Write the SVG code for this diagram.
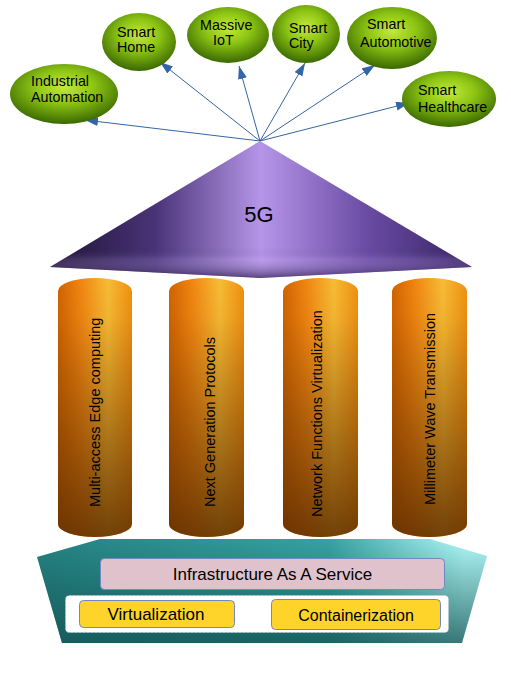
<svg xmlns="http://www.w3.org/2000/svg" width="511" height="693" viewBox="0 0 511 693">
<defs>
<radialGradient id="gGreen" cx="50%" cy="38%" r="62%">
<stop offset="0" stop-color="#c4ea3a"/>
<stop offset="0.45" stop-color="#8cc414"/>
<stop offset="1" stop-color="#3a6800"/>
</radialGradient>
<linearGradient id="gPyr" x1="0" y1="0" x2="1" y2="0">
<stop offset="0" stop-color="#1e1234"/>
<stop offset="0.25" stop-color="#4a3478"/>
<stop offset="0.5" stop-color="#b595e8"/>
<stop offset="0.75" stop-color="#6a4ca4"/>
<stop offset="1" stop-color="#362262"/>
</linearGradient>
<linearGradient id="gPyrV" x1="0" y1="0" x2="0" y2="1">
<stop offset="0" stop-color="#1a0c30" stop-opacity="0"/>
<stop offset="0.78" stop-color="#1a0c30" stop-opacity="0"/>
<stop offset="0.86" stop-color="#d0b8ff" stop-opacity="0.15"/>
<stop offset="1" stop-color="#1a0c30" stop-opacity="0.6"/>
</linearGradient>
<linearGradient id="gCyl" x1="0" y1="0" x2="1" y2="0">
<stop offset="0" stop-color="#d06400"/>
<stop offset="0.3" stop-color="#f08410"/>
<stop offset="0.68" stop-color="#f8bc34"/>
<stop offset="1" stop-color="#f09010"/>
</linearGradient>
<linearGradient id="gCylV" x1="0" y1="0" x2="0" y2="1">
<stop offset="0" stop-color="#5a2c00" stop-opacity="0"/>
<stop offset="0.15" stop-color="#5a2c00" stop-opacity="0.05"/>
<stop offset="1" stop-color="#5a2c00" stop-opacity="0.85"/>
</linearGradient>
<linearGradient id="gBase" x1="0" y1="0" x2="1" y2="0">
<stop offset="0" stop-color="#258282"/>
<stop offset="0.65" stop-color="#36a2a2"/>
<stop offset="0.95" stop-color="#b0f8f8"/>
</linearGradient>
<linearGradient id="gBaseV" x1="0" y1="0" x2="0" y2="1">
<stop offset="0" stop-color="#124e4e" stop-opacity="0"/>
<stop offset="1" stop-color="#124e4e" stop-opacity="0.75"/>
</linearGradient>
<marker id="arr" markerUnits="userSpaceOnUse" markerWidth="14" markerHeight="10" refX="13" refY="4.5" orient="auto">
<path d="M0,0 L13,4.5 L0,9 Z" fill="#3465a4"/>
</marker>
</defs>
<style>
.ell{fill:url(#gGreen);}
.t{font-family:"Liberation Sans",Arial,sans-serif;fill:#000;}
.e{font-size:14.3px;}
.c{font-size:14.5px;}
.cyl{fill:url(#gCyl);}
.cylv{fill:url(#gCylV);}
.conn{stroke:#3465a4;stroke-width:1;fill:none;marker-end:url(#arr);}
.box{stroke:#7289c0;stroke-width:1;}
</style>

<g id="connectors">
<line class="conn" x1="260" y1="141" x2="85" y2="120"/>
<line class="conn" x1="260" y1="141" x2="160" y2="62"/>
<line class="conn" x1="260" y1="141" x2="239" y2="66"/>
<line class="conn" x1="260" y1="141" x2="305" y2="63"/>
<line class="conn" x1="260" y1="141" x2="375" y2="65"/>
<line class="conn" x1="260" y1="141" x2="409" y2="103"/>
</g>

<g id="industrial">
<ellipse class="ell" cx="64" cy="94" rx="54" ry="30"/>
<text class="t e" x="31" y="86">Industrial</text>
<text class="t e" x="31" y="102">Automation</text>
</g>
<g id="smarthome">
<ellipse class="ell" cx="139" cy="42" rx="37" ry="29"/>
<text class="t e" x="117" y="37">Smart</text>
<text class="t e" x="117" y="52">Home</text>
</g>
<g id="massiveiot">
<ellipse class="ell" cx="228" cy="35" rx="41" ry="28"/>
<text class="t e" x="200" y="30">Massive</text>
<text class="t e" x="213" y="45">IoT</text>
</g>
<g id="smartcity">
<ellipse class="ell" cx="306" cy="34" rx="34" ry="29"/>
<text class="t e" x="289" y="33">Smart</text>
<text class="t e" x="289" y="48">City</text>
</g>
<g id="smartautomotive">
<ellipse class="ell" cx="392" cy="38" rx="45" ry="31"/>
<text class="t e" x="367" y="29">Smart</text>
<text class="t e" x="360" y="47">Automotive</text>
</g>
<g id="smarthealthcare">
<ellipse class="ell" cx="449" cy="99" rx="47" ry="28"/>
<text class="t e" x="418" y="95">Smart</text>
<text class="t e" x="418" y="112">Healthcare</text>
</g>

<g id="fiveg">
<path d="M260,141 L472,267 L260,278 L50,267 Z" fill="url(#gPyr)"/>
<path d="M260,141 L472,267 L260,278 L50,267 Z" fill="url(#gPyrV)"/>
<text class="t" x="259" y="222" font-size="22" text-anchor="middle">5G</text>
</g>

<g id="base">
<path d="M37,557 L100,539 L430,539 L487,556 L462,643 L62,643 Z" fill="url(#gBase)"/>
<path d="M37,557 L100,539 L430,539 L487,556 L462,643 L62,643 Z" fill="url(#gBaseV)"/>
</g>

<g id="cyl-mec">
<path class="cyl" d="M58,291 A37,13 0 0 1 132,291 L132,524 A37,13 0 0 1 58,524 Z"/>
<path class="cylv" d="M58,291 A37,13 0 0 1 132,291 L132,524 A37,13 0 0 1 58,524 Z"/>
<text class="t c" transform="translate(100,507) rotate(-90)">Multi-access Edge computing</text>
</g>
<g id="cyl-ngp">
<path class="cyl" d="M169,291 A37.5,13 0 0 1 244,291 L244,524 A37.5,13 0 0 1 169,524 Z"/>
<path class="cylv" d="M169,291 A37.5,13 0 0 1 244,291 L244,524 A37.5,13 0 0 1 169,524 Z"/>
<text class="t c" transform="translate(215,507) rotate(-90)">Next Generation Protocols</text>
</g>
<g id="cyl-nfv">
<path class="cyl" d="M283,291 A37.5,13 0 0 1 358,291 L358,524 A37.5,13 0 0 1 283,524 Z"/>
<path class="cylv" d="M283,291 A37.5,13 0 0 1 358,291 L358,524 A37.5,13 0 0 1 283,524 Z"/>
<text class="t c" transform="translate(322,517) rotate(-90)">Network Functions Virtualization</text>
</g>
<g id="cyl-mwt">
<path class="cyl" d="M392,291 A37.5,13 0 0 1 467,291 L467,524 A37.5,13 0 0 1 392,524 Z"/>
<path class="cylv" d="M392,291 A37.5,13 0 0 1 467,291 L467,524 A37.5,13 0 0 1 392,524 Z"/>
<text class="t c" transform="translate(435,505) rotate(-90)">Millimeter Wave Transmission</text>
</g>

<g id="iaas">
<rect class="box" x="100.5" y="558.5" width="344" height="31" rx="4" fill="#e0c2cc"/>
<text class="t" x="272.5" y="580" font-size="17" text-anchor="middle">Infrastructure As A Service</text>
</g>
<g id="container-box">
<rect x="65.5" y="595.5" width="383" height="37" rx="4" fill="#ffffff" stroke="#b8c8d8" stroke-width="1" stroke-dasharray="1.5,2.5"/>
</g>
<g id="virtualization">
<rect class="box" x="79.5" y="600.5" width="155" height="27" rx="4" fill="#ffd42a"/>
<text class="t" x="156" y="620" font-size="17" text-anchor="middle">Virtualization</text>
</g>
<g id="containerization">
<rect class="box" x="271.5" y="599.5" width="169" height="30" rx="4" fill="#ffd42a"/>
<text class="t" x="356" y="621" font-size="16" text-anchor="middle">Containerization</text>
</g>
</svg>
